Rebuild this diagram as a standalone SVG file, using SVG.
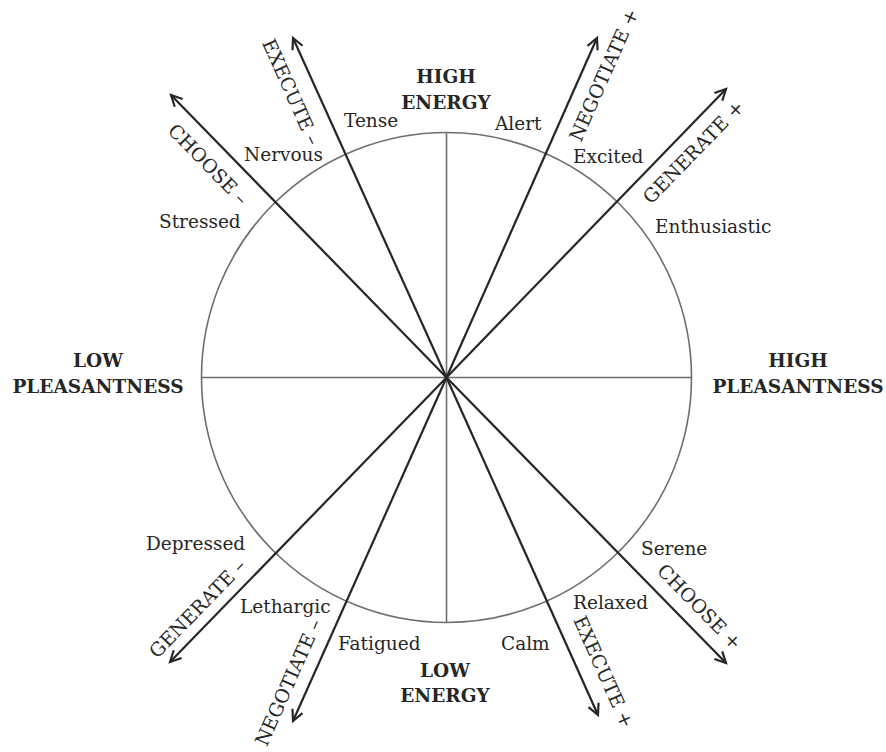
<svg xmlns="http://www.w3.org/2000/svg" width="886" height="752" viewBox="0 0 886 752">
  <style>
    .bg { fill: #ffffff; }
    .grid { fill: none; stroke: #6e6e6e; stroke-width: 1.6; }
    .arrow { stroke: #262626; stroke-width: 2.2; fill: none; }
    .emo { font-family: "DejaVu Serif", "Liberation Serif", serif; font-size: 18.5px; fill: #262626; }
    .axis { font-family: "DejaVu Serif", "Liberation Serif", serif; font-size: 18.5px; font-weight: bold; fill: #262626; text-anchor: middle; }
    .act { font-family: "DejaVu Serif", "Liberation Serif", serif; font-size: 19px; fill: #262626; text-anchor: middle; }
  </style>
  <defs>
    <marker id="head" markerUnits="userSpaceOnUse" markerWidth="30" markerHeight="30" refX="0" refY="0" viewBox="-15 -15 30 30" orient="auto">
      <path d="M -11 -5.5 L 0 0 L -11 5.5" fill="none" stroke="#262626" stroke-width="2.2" stroke-linejoin="miter"/>
    </marker>
  </defs>
  <rect class="bg" x="0" y="0" width="886" height="752"/>

  <g id="wheel">
    <circle class="grid" cx="446.5" cy="377.5" r="245"/>
    <line class="grid" x1="446.5" y1="132.5" x2="446.5" y2="622.5"/>
    <line class="grid" x1="201.5" y1="377.5" x2="691.5" y2="377.5"/>
  </g>

  <g id="connectors">
    <line class="arrow" x1="446.5" y1="377.5" x2="293" y2="38" marker-end="url(#head)"/>
    <line class="arrow" x1="446.5" y1="377.5" x2="598" y2="715" marker-end="url(#head)"/>
    <line class="arrow" x1="446.5" y1="377.5" x2="597" y2="38" marker-end="url(#head)"/>
    <line class="arrow" x1="446.5" y1="377.5" x2="293" y2="721" marker-end="url(#head)"/>
    <line class="arrow" x1="446.5" y1="377.5" x2="171" y2="95" marker-end="url(#head)"/>
    <line class="arrow" x1="446.5" y1="377.5" x2="726" y2="663" marker-end="url(#head)"/>
    <line class="arrow" x1="446.5" y1="377.5" x2="726" y2="89" marker-end="url(#head)"/>
    <line class="arrow" x1="446.5" y1="377.5" x2="170" y2="662" marker-end="url(#head)"/>
  </g>

  <g id="high-energy"><text class="axis" x="446" y="83">HIGH</text><text class="axis" x="446" y="109">ENERGY</text></g>
  <g id="low-energy"><text class="axis" x="445" y="677">LOW</text><text class="axis" x="445" y="702">ENERGY</text></g>
  <g id="low-pleasantness"><text class="axis" x="98" y="367">LOW</text><text class="axis" x="98" y="393">PLEASANTNESS</text></g>
  <g id="high-pleasantness"><text class="axis" x="798" y="367">HIGH</text><text class="axis" x="798" y="393">PLEASANTNESS</text></g>

  <g id="emotions">
    <text class="emo" x="344" y="127">Tense</text>
    <text class="emo" x="244" y="161">Nervous</text>
    <text class="emo" x="159" y="228">Stressed</text>
    <text class="emo" x="495" y="130">Alert</text>
    <text class="emo" x="573" y="163">Excited</text>
    <text class="emo" x="655" y="233">Enthusiastic</text>
    <text class="emo" x="146" y="550">Depressed</text>
    <text class="emo" x="240" y="613">Lethargic</text>
    <text class="emo" x="338" y="650">Fatigued</text>
    <text class="emo" x="641" y="555">Serene</text>
    <text class="emo" x="573" y="609">Relaxed</text>
    <text class="emo" x="501" y="650">Calm</text>
  </g>

  <g id="execute-minus"><text class="act" transform="translate(291,92) rotate(65.8)" y="6.5">EXECUTE –</text></g>
  <g id="choose-minus"><text class="act" transform="translate(208,164.5) rotate(45.6)" y="6.5">CHOOSE –</text></g>
  <g id="negotiate-plus"><text class="act" transform="translate(604,75) rotate(-66)" y="6.5">NEGOTIATE +</text></g>
  <g id="generate-plus"><text class="act" transform="translate(693.5,152) rotate(-45.8)" y="6.5">GENERATE +</text></g>
  <g id="generate-minus"><text class="act" transform="translate(197.5,608.5) rotate(-45.8)" y="6.5">GENERATE –</text></g>
  <g id="negotiate-minus"><text class="act" transform="translate(288.5,682.5) rotate(-66)" y="6.5">NEGOTIATE –</text></g>
  <g id="execute-plus"><text class="act" transform="translate(603.5,672) rotate(65.8)" y="6.5">EXECUTE +</text></g>
  <g id="choose-plus"><text class="act" transform="translate(699.5,607) rotate(45.6)" y="6.5">CHOOSE +</text></g>
</svg>
